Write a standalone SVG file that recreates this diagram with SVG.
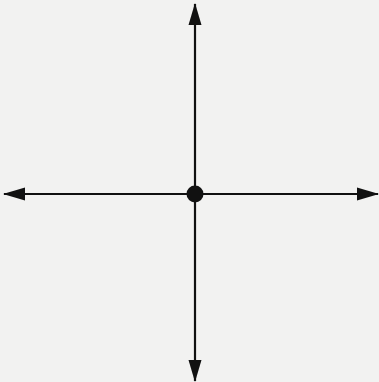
<svg xmlns="http://www.w3.org/2000/svg" width="379" height="382" viewBox="0 0 379 382">
  <style>
    .axis { stroke: #111; stroke-width: 2.2; fill: none; }
    .head { fill: #111; stroke: none; }
  </style>
  <defs>
    <marker id="arrow" viewBox="0 0 22 14" refX="21" refY="7" markerWidth="22" markerHeight="14" markerUnits="userSpaceOnUse" orient="auto">
      <path class="head" d="M0,0.5 L22,7 L0,13.5 Z"/>
    </marker>
  </defs>
  <rect x="0" y="0" width="379" height="382" fill="#f2f2f1"/>
  <g id="connectors">
    <line class="axis" x1="195" y1="194" x2="195" y2="4" marker-end="url(#arrow)"/>
    <line class="axis" x1="195" y1="194" x2="195" y2="381" marker-end="url(#arrow)"/>
    <line class="axis" x1="195" y1="194" x2="4" y2="194" marker-end="url(#arrow)"/>
    <line class="axis" x1="195" y1="194" x2="378" y2="194" marker-end="url(#arrow)"/>
  </g>
  <g id="origin">
    <circle cx="195" cy="194" r="8.5" fill="#111"/>
  </g>
</svg>
